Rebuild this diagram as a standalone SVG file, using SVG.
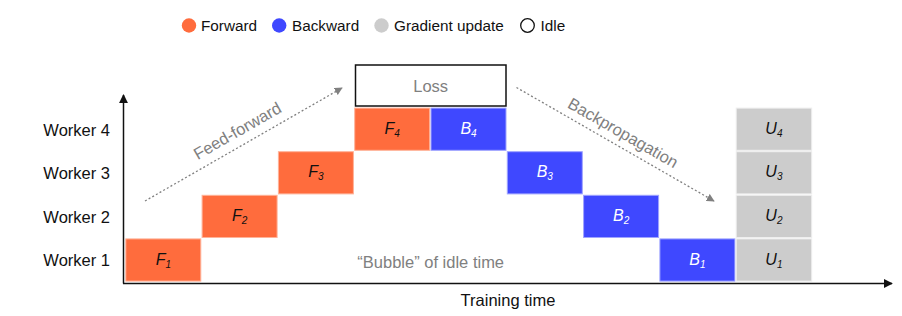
<svg xmlns="http://www.w3.org/2000/svg" width="902" height="316" viewBox="0 0 902 316">
<defs>
<style>
text{font-family:"Liberation Sans",Arial,sans-serif;}
.lg{font-size:15.3px;fill:#111;}
.tt{font-size:16.5px;fill:#111;}
.wk{font-size:16.5px;fill:#111;text-anchor:end;}
.gt{font-size:16.5px;fill:#808080;}
.cl{font-size:16px;font-style:italic;text-anchor:middle;}
.sub{font-size:10px;}
.f{fill:#FF6C3D;stroke:#ffb399;stroke-width:1;}
.b{fill:#3F48FF;stroke:#9fa4ff;stroke-width:1;}
.u{fill:#CCCCCC;stroke:#eeeeee;stroke-width:1;}
.dk{fill:#111;}
.wt{fill:#fff;}
.dot{stroke:#808080;stroke-width:1.3;stroke-dasharray:2 2.2;fill:none;}
.ax{stroke:#111;stroke-width:1.5;fill:none;}
</style>
<marker id="ga" viewBox="0 0 10 10" refX="9" refY="5" markerWidth="8" markerHeight="8" markerUnits="userSpaceOnUse" orient="auto">
<path d="M0,0 L10,5 L0,10 z" fill="#808080"/>
</marker>
<marker id="ka" viewBox="0 0 10 10" refX="9" refY="5" markerWidth="9" markerHeight="9" markerUnits="userSpaceOnUse" orient="auto">
<path d="M0,0 L10,5 L0,10 z" fill="#111"/>
</marker>
</defs>
<rect width="902" height="316" fill="#fff"/>

<g id="legend">
<circle cx="189" cy="25.5" r="7.2" fill="#FF6C3D"/>
<text class="lg" x="201" y="30.5">Forward</text>
<circle cx="279.2" cy="25.5" r="7.2" fill="#3F48FF"/>
<text class="lg" x="292" y="30.5">Backward</text>
<circle cx="381.5" cy="25.5" r="7.2" fill="#CCCCCC"/>
<text class="lg" x="394" y="30.5">Gradient update</text>
<circle cx="527.5" cy="25.5" r="6.8" fill="#fff" stroke="#111" stroke-width="1.3"/>
<text class="lg" x="540.5" y="30.5">Idle</text>
</g>

<g id="axes">
<line class="ax" x1="123.5" y1="283.5" x2="123.5" y2="95" marker-end="url(#ka)"/>
<line class="ax" x1="123" y1="283.5" x2="892" y2="283.5" marker-end="url(#ka)"/>
<text class="tt" x="508" y="306" text-anchor="middle">Training time</text>
</g>

<g id="workers">
<text class="wk" x="110" y="135.5">Worker 4</text>
<text class="wk" x="110" y="179">Worker 3</text>
<text class="wk" x="110" y="222.5">Worker 2</text>
<text class="wk" x="110" y="266">Worker 1</text>
</g>

<g id="connectors">
<line class="dot" x1="145" y1="201" x2="342" y2="88" marker-end="url(#ga)"/>
<text class="gt" transform="translate(237.5,131) rotate(-29.8)" text-anchor="middle" dy="5.5">Feed-forward</text>
<line class="dot" x1="516.5" y1="87.5" x2="714" y2="201" marker-end="url(#ga)"/>
<text class="gt" transform="translate(623,133) rotate(29.9)" text-anchor="middle" dy="5.5">Backpropagation</text>
</g>

<g id="loss">
<rect x="355.5" y="65" width="150.5" height="41" fill="#fff" stroke="#111" stroke-width="1.5"/>
<text class="gt" x="430.7" y="91.5" text-anchor="middle">Loss</text>
</g>

<g id="F1"><rect class="f" x="125.8" y="238.9" width="75" height="42.2"/><text class="cl dk" x="163.3" y="264.5">F<tspan class="sub" dy="3">1</tspan></text></g>
<g id="F2"><rect class="f" x="202.1" y="195.3" width="75" height="42.2"/><text class="cl dk" x="239.6" y="220.9">F<tspan class="sub" dy="3">2</tspan></text></g>
<g id="F3"><rect class="f" x="278.4" y="151.7" width="75" height="42.2"/><text class="cl dk" x="315.9" y="177.3">F<tspan class="sub" dy="3">3</tspan></text></g>
<g id="F4"><rect class="f" x="354.7" y="108.1" width="75" height="42.2"/><text class="cl dk" x="392.2" y="133.7">F<tspan class="sub" dy="3">4</tspan></text></g>
<g id="B4"><rect class="b" x="431" y="108.1" width="75" height="42.2"/><text class="cl wt" x="468.5" y="133.7">B<tspan class="sub" dy="3">4</tspan></text></g>
<g id="B3"><rect class="b" x="507.3" y="151.7" width="75" height="42.2"/><text class="cl wt" x="544.8" y="177.3">B<tspan class="sub" dy="3">3</tspan></text></g>
<g id="B2"><rect class="b" x="583.6" y="195.3" width="75" height="42.2"/><text class="cl wt" x="621.1" y="220.9">B<tspan class="sub" dy="3">2</tspan></text></g>
<g id="B1"><rect class="b" x="659.9" y="238.9" width="75" height="42.2"/><text class="cl wt" x="697.4" y="264.5">B<tspan class="sub" dy="3">1</tspan></text></g>
<g id="U4"><rect class="u" x="736.2" y="108.1" width="75.5" height="42.2"/><text class="cl dk" x="773.9" y="133.7">U<tspan class="sub" dy="3">4</tspan></text></g>
<g id="U3"><rect class="u" x="736.2" y="151.7" width="75.5" height="42.2"/><text class="cl dk" x="773.9" y="177.3">U<tspan class="sub" dy="3">3</tspan></text></g>
<g id="U2"><rect class="u" x="736.2" y="195.3" width="75.5" height="42.2"/><text class="cl dk" x="773.9" y="220.9">U<tspan class="sub" dy="3">2</tspan></text></g>
<g id="U1"><rect class="u" x="736.2" y="238.9" width="75.5" height="42.2"/><text class="cl dk" x="773.9" y="264.5">U<tspan class="sub" dy="3">1</tspan></text></g>

<g id="bubble">
<text class="gt" x="430.7" y="267.5" text-anchor="middle">“Bubble” of idle time</text>
</g>
</svg>
